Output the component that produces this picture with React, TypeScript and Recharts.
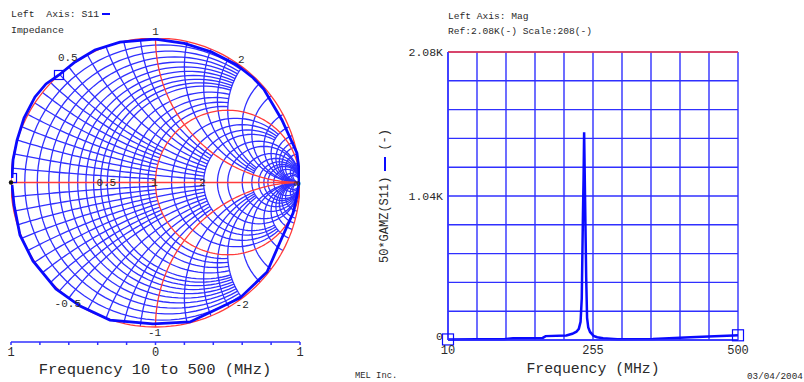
import React from 'react';
import { LineChart, Line, XAxis, YAxis, CartesianGrid, ReferenceLine, ReferenceDot } from 'recharts';

// ---------- Smith chart: S11 trace (reflection coefficient)
const traceRe = [-0.993, -0.986, -0.958, -0.91, -0.834, -0.758, -0.668, -0.557, -0.419, -0.246, -0.003, 0.2, 0.385, 0.56, 0.675, 0.75, 0.875, 0.979, 0.993, 0.993, 0.979, 0.952, 0.862, 0.772, 0.585, 0.412, 0.239, -0.017, -0.315, -0.522, -0.689, -0.848, -0.938, -0.979, -0.993];
const traceIm = [0.031, 0.156, 0.294, 0.446, 0.592, 0.682, 0.744, 0.834, 0.917, 0.972, 0.993, 0.962, 0.905, 0.815, 0.725, 0.645, 0.433, 0.204, 0.087, -0.003, -0.093, -0.211, -0.412, -0.619, -0.799, -0.882, -0.965, -0.979, -0.952, -0.855, -0.737, -0.543, -0.363, -0.156, -0.017];
const traceMarkerIdx = [0, 6];

// ---------- Smith chart grid values
const rFine = [0.05, 0.1, 0.15, 0.2, 0.25, 0.3, 0.35, 0.4, 0.45, 0.5, 0.6, 0.7, 0.8, 0.9];
const rMid = [1.25, 1.5, 1.75, 2];
const rHigh = [2.5, 3, 4, 5, 6, 7, 8, 10, 15, 20];
const xFineOdd = [0.05, 0.15, 0.25, 0.35, 0.45];
const xFine = [0.1, 0.2, 0.3, 0.4, 0.5, 0.6, 0.7, 0.8, 0.9];
const xMid = [1.25, 1.5, 1.75, 2];
const xHigh = [2.5, 3, 4, 5, 6, 7, 8, 10, 15, 20];
const rRed = [0, 1];
const xRed = [1, -1];
const smithTicks = [-1, -0.8, -0.6, -0.4, -0.2, 0, 0.2, 0.4, 0.6, 0.8, 1];
const reactLabels = [1, 0.5, 2, -0.5, -1, -2];
const reactLabelText = ['1', '0.5', '2', '-0.5', '-1', '-2'];
const reactLabelOff = [[0, -6], [-1, -9], [-1, -7], [-1, 6], [-1, 6], [0, 7]];
const resLabels = [0.5, 1, 2];
const resLabelText = ['0.5', '1', '2'];

// ---------- Right chart: 50*|Z| vs frequency
const freqMHz = [10, 60, 105, 120, 170, 175, 210, 220, 227, 231, 234, 236, 237, 238, 239, 240, 241.5, 242.5, 243.5, 245, 247, 250, 256, 262, 272, 296, 356, 420, 450, 492, 500];
const magZ = [4, 5, 6, 13, 15, 28, 32, 45, 60, 80, 132, 300, 600, 900, 1150, 1500, 1050, 750, 450, 160, 90, 58, 30, 20, 12, 5, 7, 20, 25, 32, 34];
const freqTicks = [10, 59, 108, 157, 206, 255, 304, 353, 402, 451, 500];
const freqTickLabels = [10, 255, 500];
const magTicks = [0, 208, 416, 624, 832, 1040, 1248, 1456, 1664, 1872, 2080];

const MONO = "'Liberation Mono', 'DejaVu Sans Mono', monospace";
const GRID_BLUE = '#3030ff';
const TRACE_BLUE = '#0a0aff';
const RED = '#ff3b3b';
const TXT = '#2a2a2a';

type Pt = { x: number; y: number };

function gamma(r: number, x: number): [number, number] {
  const dr = r + 1, nr = r - 1;
  const den = dr * dr + x * x;
  return [(nr * dr + x * x) / den, (2 * x) / den];
}

function rCircle(r: number, xm: number, n = 72): Pt[] {
  const c = r / (r + 1), R = 1 / (r + 1);
  let t0 = 0;
  if (isFinite(xm)) {
    const p = gamma(r, xm);
    t0 = Math.atan2(p[1], p[0] - c);
  }
  const pts: Pt[] = [];
  for (let i = 0; i <= n; i++) {
    const t = t0 + ((2 * Math.PI - 2 * t0) * i) / n;
    pts.push({ x: c + R * Math.cos(t), y: R * Math.sin(t) });
  }
  return pts;
}

function xArc(x: number, rm: number, n = 48): Pt[] {
  const cy = 1 / x, R = 1 / Math.abs(x);
  const p0 = gamma(0, x);
  const p1 = isFinite(rm) ? gamma(rm, x) : [1, 0];
  const a0 = Math.atan2(p0[1] - cy, p0[0] - 1);
  const a1 = Math.atan2(p1[1] - cy, p1[0] - 1);
  let d = a1 - a0;
  while (d > Math.PI) d -= 2 * Math.PI;
  while (d < -Math.PI) d += 2 * Math.PI;
  const pts: Pt[] = [];
  for (let i = 0; i <= n; i++) {
    const a = a0 + (d * i) / n;
    pts.push({ x: 1 + R * Math.cos(a), y: cy + R * Math.sin(a) });
  }
  return pts;
}

type Curve = { key: string; pts: Pt[]; color: string; w: number };
const GW = 1.3;
const blueCurves: Curve[] = [];
rFine.forEach((r) => blueCurves.push({ key: 'rf' + r, pts: rCircle(r, 2), color: GRID_BLUE, w: GW }));
rMid.forEach((r) => blueCurves.push({ key: 'rm' + r, pts: rCircle(r, 5), color: GRID_BLUE, w: GW }));
rHigh.forEach((r) => blueCurves.push({ key: 'rh' + r, pts: rCircle(r, Infinity), color: GRID_BLUE, w: GW }));
[1, -1].forEach((s) => {
  xFineOdd.forEach((x) => blueCurves.push({ key: 'xo' + s * x, pts: xArc(s * x, 1), color: GRID_BLUE, w: GW }));
  xFine.forEach((x) => blueCurves.push({ key: 'xf' + s * x, pts: xArc(s * x, 2), color: GRID_BLUE, w: GW }));
  xMid.forEach((x) => blueCurves.push({ key: 'xm' + s * x, pts: xArc(s * x, 5), color: GRID_BLUE, w: GW }));
  xHigh.forEach((x) => blueCurves.push({ key: 'xh' + s * x, pts: xArc(s * x, Infinity), color: GRID_BLUE, w: GW }));
});
const redCurves: Curve[] = [];
rRed.forEach((r) => redCurves.push({ key: 'rr' + r, pts: rCircle(r, Infinity, 180), color: RED, w: 1.3 }));
xRed.forEach((x) => redCurves.push({ key: 'xr' + x, pts: xArc(x, Infinity, 90), color: RED, w: 1.3 }));
redCurves.push({ key: 'axis', pts: [{ x: -1, y: 0 }, { x: 1, y: 0 }], color: RED, w: 1.3 });

const traceData: Pt[] = traceRe.map((re, i) => ({ x: re, y: traceIm[i] }));
const magRows = freqMHz.map((f, i) => ({ f, v: magZ[i] }));

function SmithChart() {
  return (
    <LineChart width={320} height={382} margin={{ top: 38, left: 11, right: 20, bottom: 10 }}>
      <XAxis
        type="number"
        dataKey="x"
        domain={[-1, 1]}
        allowDataOverflow
        ticks={smithTicks}
        interval={0}
        height={30}
        tickSize={3}
        axisLine={{ stroke: GRID_BLUE, strokeWidth: 1.5 }}
        tickLine={{ stroke: GRID_BLUE, strokeWidth: 1.5 }}
        tick={{ fill: TXT, fontSize: 12, fontFamily: MONO }}
        tickFormatter={(v: number) => (v === -1 || v === 1 ? '1' : v === 0 ? '0' : '')}
      />
      <YAxis type="number" domain={[-1.1038, 1]} allowDataOverflow hide />
      {blueCurves.map((c) => (
        <Line key={c.key} data={c.pts} dataKey="y" stroke={c.color} strokeWidth={c.w} dot={false} activeDot={false} isAnimationActive={false} legendType="none" />
      ))}
      {redCurves.map((c) => (
        <Line key={c.key} data={c.pts} dataKey="y" stroke={c.color} strokeWidth={c.w} dot={false} activeDot={false} isAnimationActive={false} legendType="none" />
      ))}
      <Line
        data={traceData}
        dataKey="y"
        stroke={TRACE_BLUE}
        strokeWidth={2.8}
        isAnimationActive={false}
        activeDot={false}
        legendType="none"
        dot={(p: any) =>
          traceMarkerIdx.includes(p.index) ? (
            <rect key={'m' + p.index} x={p.cx - 4.5} y={p.cy - 4.5} width={9} height={9} fill="none" stroke={TRACE_BLUE} strokeWidth={1.2} />
          ) : (
            <g key={'m' + p.index} />
          )
        }
      />
      <ReferenceDot x={-1} y={0} r={2.2} fill="#111" stroke="none" ifOverflow="visible" />
      {reactLabels.map((xv, i) => {
        const g = gamma(0, xv);
        const [dx, dy] = reactLabelOff[i];
        return (
          <ReferenceDot
            key={'rl' + i}
            x={g[0]}
            y={g[1]}
            r={0}
            ifOverflow="visible"
            shape={(p: any) => (
              <text x={p.cx + dx} y={p.cy + dy} textAnchor="middle" dominantBaseline="central" fontSize={11} fontFamily={MONO} fill={TXT}>
                {reactLabelText[i]}
              </text>
            )}
          />
        );
      })}
      {resLabels.map((rv, i) => {
        const g = gamma(rv, 0);
        return (
          <ReferenceDot
            key={'sl' + i}
            x={g[0]}
            y={g[1]}
            r={0}
            ifOverflow="visible"
            shape={(p: any) => (
              <text x={p.cx - 1} y={p.cy + 0.5} textAnchor="middle" dominantBaseline="central" fontSize={11} fontFamily={MONO} fill={TXT}>
                {resLabelText[i]}
              </text>
            )}
          />
        );
      })}
      <ReferenceDot
        x={1}
        y={0}
        r={0}
        ifOverflow="visible"
        shape={(p: any) => (
          <text x={p.cx - 3} y={p.cy + 0.5} textAnchor="middle" dominantBaseline="central" fontSize={11} fontFamily="'DejaVu Sans Mono', monospace" fill={TXT}>
            ∞
          </text>
        )}
      />
    </LineChart>
  );
}

function MagYTick(p: any) {
  const v = p.payload.value;
  const t = v === 2080 ? '2.08K' : v === 1040 ? '1.04K' : v === 0 ? '0' : '';
  if (!t) return <g />;
  return (
    <text x={p.x - 1} y={p.y + (v === 0 ? -4 : 0)} textAnchor="end" dominantBaseline="central" fontSize={11.5} fontFamily={MONO} fill={TXT}>
      {t}
    </text>
  );
}

function MagChart() {
  const n = magRows.length;
  return (
    <LineChart width={444} height={382} data={magRows} margin={{ top: 52, left: 28, right: 66, bottom: 12 }}>
      <CartesianGrid stroke={GRID_BLUE} strokeWidth={1.4} />
      <XAxis
        type="number"
        dataKey="f"
        domain={[10, 500]}
        ticks={freqTicks}
        interval={0}
        height={30}
        tickLine={false}
        tickSize={3}
        axisLine={{ stroke: GRID_BLUE, strokeWidth: 1.4 }}
        tick={{ fill: TXT, fontSize: 12, fontFamily: MONO }}
        tickFormatter={(v: number) => (freqTickLabels.includes(v) ? String(v) : '')}
      />
      <YAxis
        type="number"
        domain={[0, 2080]}
        ticks={magTicks}
        interval={0}
        width={60}
        tickLine={false}
        tickSize={2}
        axisLine={{ stroke: GRID_BLUE, strokeWidth: 1.4 }}
        tick={<MagYTick />}
      />
      <ReferenceLine y={2080} stroke={RED} strokeWidth={1.6} />
      <Line
        dataKey="v"
        stroke={TRACE_BLUE}
        strokeWidth={2.5}
        isAnimationActive={false}
        activeDot={false}
        legendType="none"
        dot={(p: any) =>
          p.index === 0 || p.index === n - 1 ? (
            <rect key={'d' + p.index} x={p.cx - 5.5} y={p.cy - 5.5} width={11} height={11} fill="none" stroke={TRACE_BLUE} strokeWidth={1.2} />
          ) : (
            <g key={'d' + p.index} />
          )
        }
      />
    </LineChart>
  );
}

const abs = (l: number, t: number, extra: React.CSSProperties = {}): React.CSSProperties => ({
  position: 'absolute',
  left: l,
  top: t,
  whiteSpace: 'pre',
  fontFamily: MONO,
  color: TXT,
  lineHeight: 1,
  ...extra,
});

export default function App() {
  return (
    <div style={{ position: 'absolute', left: 0, top: 0, width: 804, height: 382, background: '#fff', overflow: 'hidden' }}>
      <div style={{ position: 'absolute', left: 0, top: 0 }}>
        <SmithChart />
      </div>
      <div style={{ position: 'absolute', left: 360, top: 0 }}>
        <MagChart />
      </div>
      <div style={abs(11, 10, { fontSize: 9.8 })}>
        Left  Axis: S11
        <span style={{ display: 'inline-block', width: 8, height: 2, background: TRACE_BLUE, marginLeft: 3, verticalAlign: 'middle' }} />
      </div>
      <div style={abs(11, 25.5, { fontSize: 9.8 })}>Impedance</div>
      <div style={abs(155, 363, { fontSize: 15.5, transform: 'translateX(-50%)' })}>Frequency 10 to 500 (MHz)</div>
      <div style={abs(448, 12, { fontSize: 9.6 })}>Left Axis: Mag</div>
      <div style={abs(448, 27, { fontSize: 9.6 })}>Ref:2.08K(-) Scale:208(-)</div>
      <div style={abs(593, 362, { fontSize: 14.8, transform: 'translateX(-50%)' })}>Frequency (MHz)</div>
      <div style={abs(355, 372, { fontSize: 8.8 })}>MEL Inc.</div>
      <div style={abs(747, 372, { fontSize: 9.3 })}>03/04/2004</div>
      <div
        style={abs(385, 196, {
          fontSize: 12,
          transform: 'translate(-50%, -50%) rotate(-90deg)',
          left: 385,
          top: 196,
        })}
      >
        50*GAMZ(S11)
        <span style={{ display: 'inline-block', width: 14, height: 2.5, background: TRACE_BLUE, margin: '0 6px', verticalAlign: 'middle' }} />
        (-)
      </div>
    </div>
  );
}
